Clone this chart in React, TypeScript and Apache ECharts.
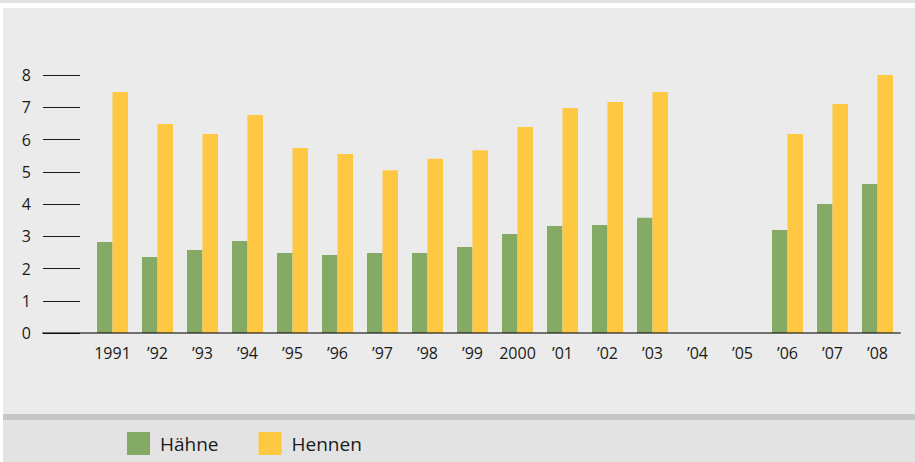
import React, { useEffect, useRef } from "react";
import * as echarts from "echarts";

const categories = ["1991", "’92", "’93", "’94", "’95", "’96", "’97", "’98", "’99", "2000", "’01", "’02", "’03", "’04", "’05", "’06", "’07", "’08"];
const haehne = [2.82, 2.36, 2.57, 2.85, 2.48, 2.42, 2.48, 2.48, 2.67, 3.07, 3.32, 3.35, 3.57, null, null, 3.19, 4.0, 4.62];
const hennen = [7.47, 6.48, 6.17, 6.76, 5.74, 5.55, 5.05, 5.4, 5.67, 6.39, 6.98, 7.16, 7.47, null, null, 6.17, 7.1, 8.03];
const seriesNames = ["Hähne", "Hennen"];
const colors = ["#84aa66", "#fec843"];
const yTicks = { min: 0, max: 8, interval: 1 };

const FONT = "'Open Sans', 'Noto Sans', sans-serif";

export default function App() {
  const ref = useRef<HTMLDivElement>(null);
  useEffect(() => {
    if (!ref.current) return;
    const chart = echarts.init(ref.current, null, { renderer: "svg" });
    chart.setOption({
      animation: false,
      backgroundColor: "#ffffff",
      textStyle: { fontFamily: FONT },
      graphic: [
        { type: "rect", silent: true, z: -100, shape: { x: 0, y: 0, width: 915, height: 3 }, style: { fill: "#e3e3e3" } },
        { type: "rect", silent: true, z: -100, shape: { x: 3, y: 8, width: 912, height: 406 }, style: { fill: "#ebebeb" } },
        { type: "rect", silent: true, z: -100, shape: { x: 3, y: 414, width: 912, height: 6 }, style: { fill: "#c6c6c6" } },
        { type: "rect", silent: true, z: -100, shape: { x: 3, y: 420, width: 912, height: 42 }, style: { fill: "#e3e3e3" } },
      ],
      legend: {
        left: 127,
        top: 432,
        padding: 0,
        itemWidth: 23,
        itemHeight: 23,
        itemGap: 40,
        icon: "rect",
        data: seriesNames,
        textStyle: { fontFamily: FONT, fontSize: 19, color: "#1a1a1a", padding: [0, 0, 0, 5] },
      },
      grid: [
        { left: 90, right: 15, top: 75, bottom: 129 },
        { left: 43, right: 15, top: 75, bottom: 129 },
      ],
      xAxis: [
        {
          type: "category",
          gridIndex: 0,
          data: categories,
          axisLine: { show: false },
          axisTick: { show: false },
          axisLabel: { fontFamily: FONT, fontSize: 16, color: "#1a1a1a", margin: 12, interval: 0 },
        },
        {
          type: "value",
          gridIndex: 1,
          min: 0,
          max: 1,
          z: 10,
          axisLine: { show: true, lineStyle: { color: "rgba(0,0,0,0.52)", width: 2 } },
          axisTick: { show: false },
          axisLabel: { show: false },
          splitLine: { show: false },
        },
      ],
      yAxis: [
        {
          type: "value",
          gridIndex: 0,
          ...yTicks,
          show: false,
          splitLine: { show: false },
        },
        {
          type: "value",
          gridIndex: 1,
          ...yTicks,
          axisLine: { show: false },
          axisTick: { show: true, inside: true, length: 37, lineStyle: { color: "#1a1a1a", width: 1 } },
          axisLabel: { fontFamily: FONT, fontSize: 16, color: "#1a1a1a", margin: 12 },
          splitLine: { show: false },
        },
      ],
      series: [
        {
          name: seriesNames[0],
          type: "bar",
          xAxisIndex: 0,
          yAxisIndex: 0,
          data: haehne,
          barWidth: 15.5,
          barGap: "0%",
          itemStyle: { color: colors[0] },
        },
        {
          name: seriesNames[1],
          type: "bar",
          xAxisIndex: 0,
          yAxisIndex: 0,
          data: hennen,
          barWidth: 15.5,
          barGap: "0%",
          itemStyle: { color: colors[1] },
        },
      ],
    });
    return () => chart.dispose();
  }, []);
  return <div ref={ref} style={{ position: "fixed", left: 0, top: 0, width: 915, height: 462 }} />;
}
